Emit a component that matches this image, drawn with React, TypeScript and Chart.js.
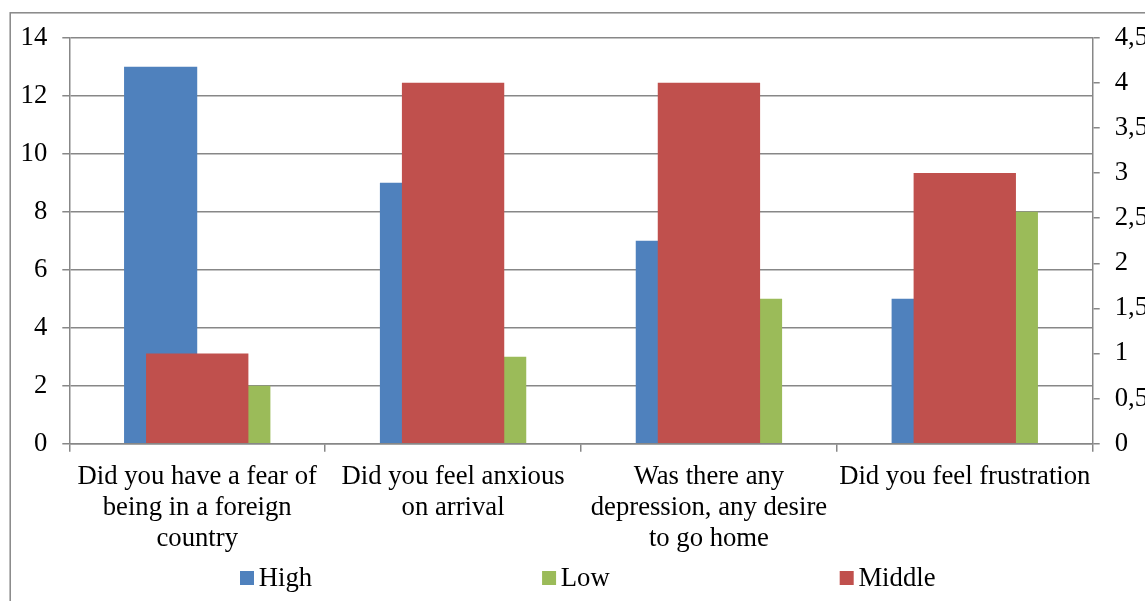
import React, { useEffect, useRef } from "react";
import { Chart, registerables } from "chart.js";

Chart.register(...registerables);

const categories: string[][] = [
  ["Did you have a fear of", "being in a foreign", "country"],
  ["Did you feel anxious", "on arrival"],
  ["Was there any", "depression, any desire", "to go home"],
  ["Did you feel frustration"],
];
const highValues = [13, 9, 7, 5];
const lowValues = [2, 3, 5, 8];
const middleValues = [1, 4, 4, 3];
const seriesNames = ["High", "Low", "Middle"];
const leftMax = 14;
const leftStep = 2;
const rightMax = 4.5;
const rightStep = 0.5;

const FONT = "Liberation Serif";
const FONT_SIZE = 26.7;
const GRID = "#878787";
const COLORS = { High: "#4F81BD", Low: "#9BBB59", Middle: "#C0504D" };

const framePlugin = {
  id: "frame",
  beforeDraw(chart: any) {
    const ctx = chart.ctx;
    ctx.save();
    ctx.strokeStyle = GRID;
    ctx.lineWidth = 1.5;
    ctx.strokeRect(10.2, 12.8, chart.width + 100, chart.height + 100);
    ctx.restore();
  },
};

const legendPlugin = {
  id: "customLegend",
  afterDraw(chart: any) {
    const ctx = chart.ctx;
    ctx.save();
    ctx.font = `${FONT_SIZE}px "${FONT}"`;
    ctx.textBaseline = "alphabetic";
    ctx.textAlign = "left";
    const box = 14;
    const gap = 4.7;
    const itemGap = 230;
    let x = 240;
    const baseline = 585.5;
    chart.data.datasets.forEach((ds: any) => {
      ctx.fillStyle = ds.backgroundColor;
      ctx.fillRect(x, baseline - box - 0.5, box, box);
      ctx.fillStyle = "#000";
      ctx.fillText(ds.label, x + box + gap, baseline);
      const w = ctx.measureText(ds.label).width;
      x += box + gap + w + itemGap;
    });
    ctx.restore();
  },
};

export default function App() {
  const ref = useRef<HTMLCanvasElement>(null);
  useEffect(() => {
    document.body.style.margin = "0";
    Chart.defaults.font.family = FONT;
    const chart = new Chart(ref.current!, {
      type: "bar",
      data: {
        labels: categories as any,
        datasets: [
          {
            label: seriesNames[0],
            data: highValues,
            backgroundColor: COLORS.High,
            yAxisID: "y",
            categoryPercentage: 0.572,
            barPercentage: 1,
            order: 0,
          },
          {
            label: seriesNames[1],
            data: lowValues,
            backgroundColor: COLORS.Low,
            yAxisID: "y",
            categoryPercentage: 0.572,
            barPercentage: 1,
            order: 0,
          },
          {
            label: seriesNames[2],
            data: middleValues,
            backgroundColor: COLORS.Middle,
            yAxisID: "y1",
            grouped: false,
            categoryPercentage: 1,
            barPercentage: 0.4,
            order: -1,
          } as any,
        ],
      },
      options: {
        animation: false,
        responsive: false,
        layout: { padding: { top: 37.7, left: 0, right: 0, bottom: 37.3 } },
        plugins: {
          legend: { display: false },
          tooltip: { enabled: false },
        },
        scales: {
          x: {
            grid: {
              drawOnChartArea: false,
              drawTicks: true,
              tickLength: 8,
              color: GRID,
              lineWidth: 1.5,
              offset: true,
            },
            border: { display: true, color: GRID, width: 1.5 },
            ticks: {
              color: "#000",
              font: { family: FONT, size: FONT_SIZE, lineHeight: 1.161 },
              padding: 10,
              maxRotation: 0,
              minRotation: 0,
              autoSkip: false,
            },
            afterFit: (scale: any) => {
              scale.height = 120;
            },
          },
          y: {
            position: "left",
            min: 0,
            max: leftMax,
            ticks: {
              stepSize: leftStep,
              color: "#000",
              font: { family: FONT, size: FONT_SIZE },
              padding: 15,
            },
            grid: {
              color: GRID,
              lineWidth: 1.5,
              drawTicks: true,
              tickLength: 7,
            },
            border: { display: true, color: GRID, width: 1.5 },
            afterFit: (scale: any) => {
              scale.width = 69.3;
            },
          },
          y1: {
            position: "right",
            min: 0,
            max: rightMax,
            ticks: {
              stepSize: rightStep,
              color: "#000",
              font: { family: FONT, size: FONT_SIZE },
              padding: 15,
              callback: (v: any) => String(v).replace(".", ","),
            },
            grid: {
              drawOnChartArea: false,
              color: GRID,
              lineWidth: 1.5,
              drawTicks: true,
              tickLength: 7,
            },
            border: { display: true, color: GRID, width: 1.5 },
            afterFit: (scale: any) => {
              scale.width = 52.3;
            },
          },
        },
      },
      plugins: [framePlugin, legendPlugin],
    });
    return () => chart.destroy();
  }, []);
  return (
    <div style={{ width: 1145, height: 601, overflow: "hidden" }}>
      <canvas ref={ref} width={1145} height={601} style={{ display: "block" }} />
    </div>
  );
}
